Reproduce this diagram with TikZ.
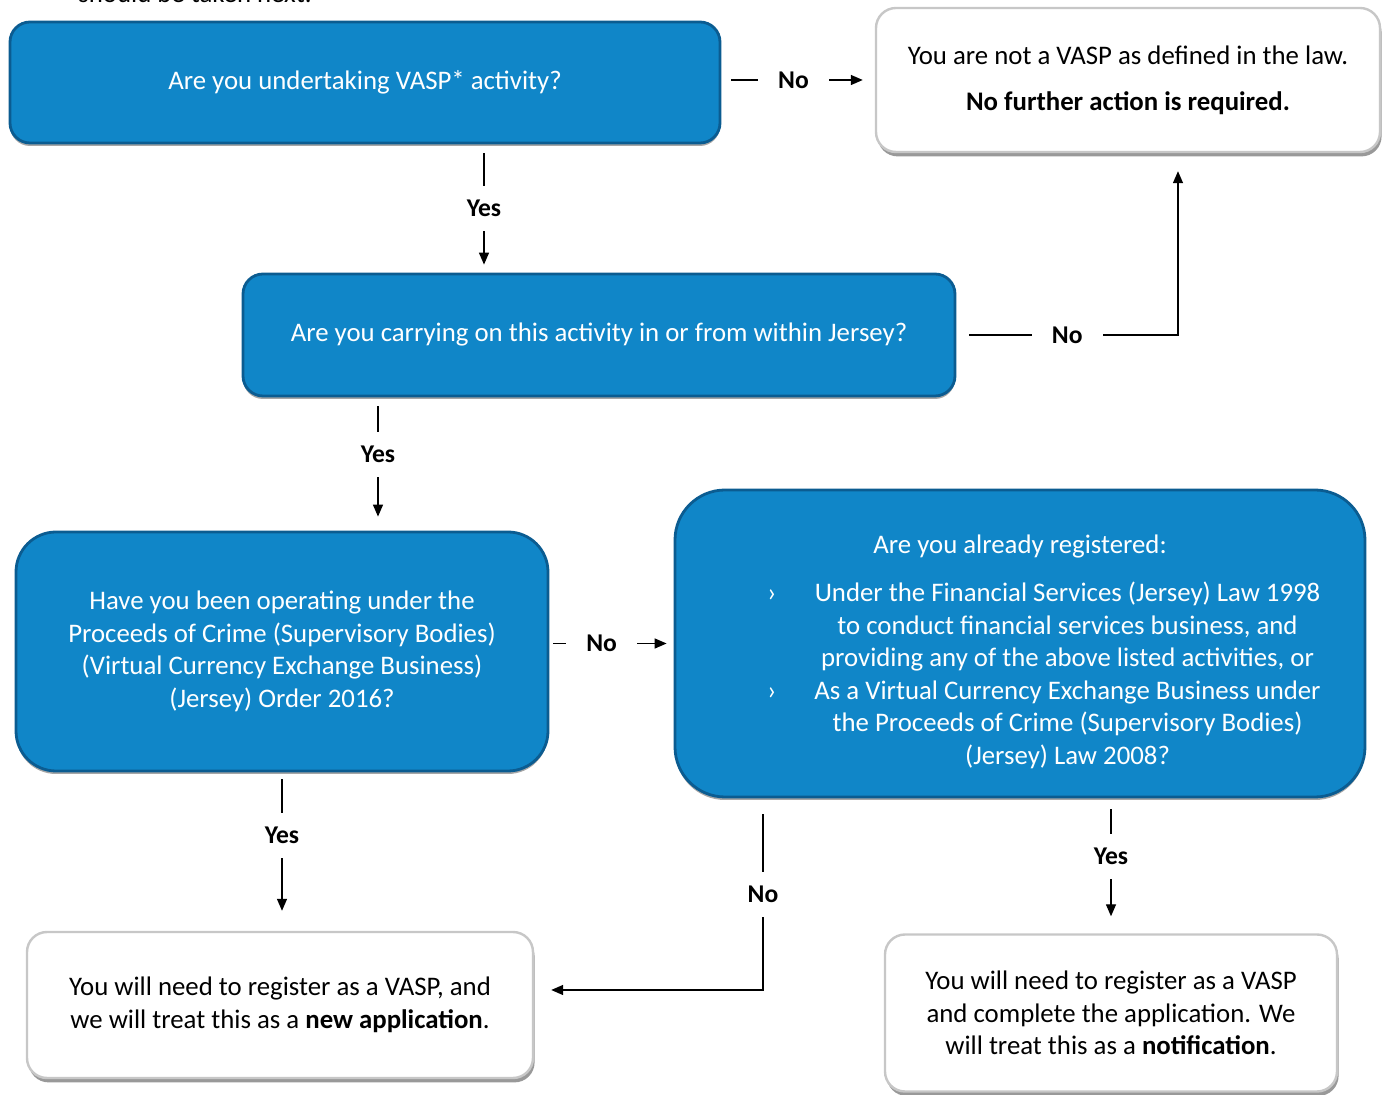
\documentclass[tikz,border=0pt]{standalone}
\usepackage{fontspec}
\setmainfont{Carlito}
\usetikzlibrary{arrows.meta,shadows,calc}

\definecolor{vaspblue}{RGB}{16,134,200}
\definecolor{vaspedge}{RGB}{11,92,145}

\tikzset{
  bluebox/.style={rounded corners=10pt, fill=vaspblue, draw=vaspedge, line width=1.4pt,
    text=white, align=center,
    drop shadow={shadow xshift=0pt, shadow yshift=-1.5pt, fill=black, opacity=0.35}},
  whitebox/.style={rounded corners=10pt, fill=white, draw=black!22, line width=1.2pt,
    align=center,
    drop shadow={shadow xshift=0.8pt, shadow yshift=-2.2pt, fill=black, opacity=0.4}},
  lbl/.style={fill=white, font=\fontsize{12.8pt}{15pt}\selectfont\bfseries, inner xsep=10pt, inner ysep=7pt},
  arr/.style={line width=0.7pt, -{Triangle[length=6pt,width=5pt]}},
}

\begin{document}
\begin{tikzpicture}[x=0.5pt, y=-0.5pt, font=\fontsize{13.4pt}{16.25pt}\selectfont]
    \useasboundingbox (0,0) rectangle (1389,1095);
    \clip (0,0) rectangle (1389,1095);

    % Draw nodes
    \node[anchor=base] (prev) at (195,3) {should be taken next.};
    \node[bluebox, minimum width=355pt, minimum height=60.5pt] (ask) at (365,82.5)
        {Are you undertaking VASP* activity?};
    \node[whitebox, minimum width=252pt, minimum height=72pt] (notvasp) at (1128,80)
        {You are not a VASP as defined in the law.\\[6.75pt]\textbf{No further action is required.}};
    \node[bluebox, minimum width=356pt, minimum height=61pt] (jersey) at (599,335)
        {Are you carrying on this activity in or from within Jersey?};
    \node[bluebox, rounded corners=20pt, minimum width=266pt, minimum height=119.5pt] (order) at (282,651.5)
        {Have you been operating under the\\Proceeds of Crime (Supervisory Bodies)\\(Virtual Currency Exchange Business)\\(Jersey) Order 2016?};
    \node[bluebox, rounded corners=25pt, minimum width=345pt, minimum height=153.5pt] (reg) at (1020,643.5) {};
    \node[text=white, align=center] (regtext) at ($(reg)+(0,11)$)
        {Are you already registered:\\[9.25pt]
         \begin{tabular}{@{\hspace{24pt}}c@{\hspace{19pt}}c@{}}
         › & Under the Financial Services (Jersey) Law 1998\\
           & to conduct financial services business, and\\
           & providing any of the above listed activities, or\\
         › & As a Virtual Currency Exchange Business under\\
           & the Proceeds of Crime (Supervisory Bodies)\\
           & (Jersey) Law 2008?
         \end{tabular}};
    \node[whitebox, minimum width=253pt, minimum height=73pt] (newapp) at (280,1005)
        {You will need to register as a VASP, and\\we will treat this as a \textbf{new application}.};
    \node[whitebox, minimum width=226pt, minimum height=78.5pt] (notif) at (1111,1013)
        {You will need to register as a VASP\\and complete the application. We\\will treat this as a \textbf{notification}.};

    \coordinate (turn) at (1178,335);
    \coordinate (corner) at (763,990);

    % Draw edges
    \draw[arr, shorten <=5pt, shorten >=6pt] (ask.east |- notvasp.west) -- node[lbl, pos=0.47] {No} (notvasp.west);
    \draw[arr, shorten <=4.5pt, shorten >=4pt] (ask.south -| 484,0) -- node[lbl] {Yes} (jersey.north -| 484,0);
    \draw[arr, shorten <=6.5pt, shorten >=9pt] (jersey.east) -- node[lbl] {No} (turn) -- (turn |- notvasp.south);
    \draw[arr, shorten <=4.5pt, shorten >=7pt] (jersey.south -| 378,0) -- node[lbl, pos=0.43] {Yes} (order.north -| 378,0);
    \draw[arr, shorten <=2pt, shorten >=3.5pt] (order.east |- reg.west) -- node[lbl, pos=0.42] {No} (reg.west);
    \draw[arr, shorten <=3.5pt, shorten >=10pt] (order.south) -- node[lbl, pos=0.4] {Yes} (order.south |- newapp.north);
    \draw[arr, shorten <=8pt, shorten >=8.5pt] (reg.south -| corner) -- node[lbl] {No} (corner) -- (corner -| newapp.east);
    \draw[arr, shorten <=5.5pt, shorten >=8.5pt] (reg.south -| notif.north) -- node[lbl, pos=0.43] {Yes} (notif.north);
\end{tikzpicture}
\end{document}
